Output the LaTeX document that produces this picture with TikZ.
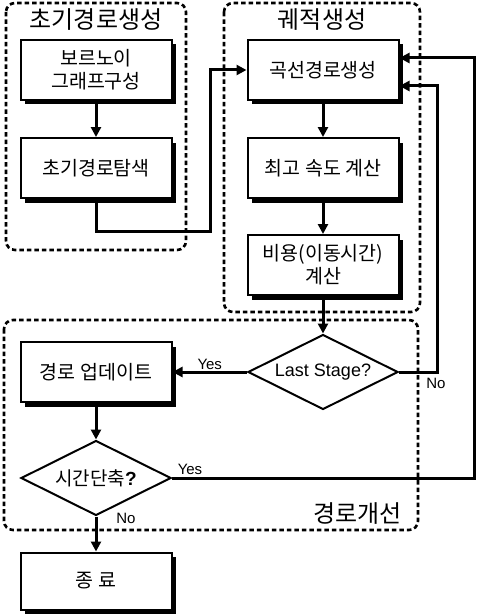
\documentclass[tikz,border=0pt]{standalone}
\usepackage{fontspec}
\setmainfont{Noto Sans CJK KR}
\newfontfamily\latinfont{Liberation Sans}
\usetikzlibrary{arrows.meta,shapes.geometric,shadows}

\begin{document}
\begin{tikzpicture}[x=1pt,y=-1pt,
    >={Triangle[length=10pt,width=10pt]},
    box/.style={draw,line width=2pt,fill=white,minimum width=151pt,minimum height=60pt,align=center,
        font=\fontsize{19.5}{23}\selectfont,
        drop shadow={shadow xshift=4.5pt,shadow yshift=-4.5pt,fill=black,opacity=1}},
    decision/.style={draw,diamond,line width=2pt,aspect=2,inner sep=0pt,minimum width=150pt,minimum height=75pt,
        font=\fontsize{19}{22}\selectfont},
    group/.style={draw,line width=2.6pt,dash pattern=on 4.5pt off 3pt,rounded corners=9pt},
    title/.style={font=\fontsize{24}{27}\selectfont},
    link/.style={->,line width=3pt},
    answer/.style={font=\latinfont\fontsize{15}{17}\selectfont,inner sep=1pt}]
    \path[fill=white,use as bounding box] (0,0) rectangle (476,615);
    \draw[group] (6,3) rectangle (186,250);
    \draw[group] (224,3) rectangle (420,312);
    \draw[group] (4,320) rectangle (418,530);
    \node[title] (t1) at (96,20) {초기경로생성};
    \node[title] (t2) at (322,20) {궤적생성};
    \node[title,anchor=east] (t3) at (405,514) {경로개선};

    \node[box] (voronoi) at (96,70) {보르노이\\그래프구성};
    \node[box] (initpath) at (96,168) {초기경로탐색};
    \node[box] (curve) at (323,70) {곡선경로생성};
    \node[box] (speed) at (323,168) {최고 속도 계산};
    \node[box] (cost) at (323,265) {비용(이동시간)\\계산};
    \node[decision] (last) at (323,372) {\latinfont\fontsize{18}{20}\selectfont Last Stage?};
    \node[box] (update) at (96,372) {경로 업데이트};
    \node[decision] (shorter) at (96,478) {시간단축{\latinfont\bfseries ?}};
    \node[box,minimum height=57pt] (finish) at (96,581) {종 료};

    \draw[link] (voronoi) -- (initpath);
    \coordinate (bend) at (210,231);
    \draw[link] (initpath.south) |- (bend) |- (curve.west);
    \draw[link] (curve) -- (speed);
    \draw[link] (speed) -- (cost);
    \draw[link] (cost) -- (last);
    \draw[link] (last) -- node[answer,above] (yes1) {Yes} (update);
    \coordinate (noturn) at (437,86);
    \draw[link] (last.east) -| (noturn) -- (noturn -| curve.east);
    \node[answer] (no1) at (436,383) {No};
    \draw[link] (update) -- (shorter);
    \coordinate (yesturn) at (474,58);
    \draw[link] (shorter.east) -| (yesturn) -- (yesturn -| curve.east);
    \node[answer] (yes2) at (190,469) {Yes};
    \draw[link] (shorter) -- (finish);
    \node[answer] (no2) at (126,518) {No};
\end{tikzpicture}
\end{document}
